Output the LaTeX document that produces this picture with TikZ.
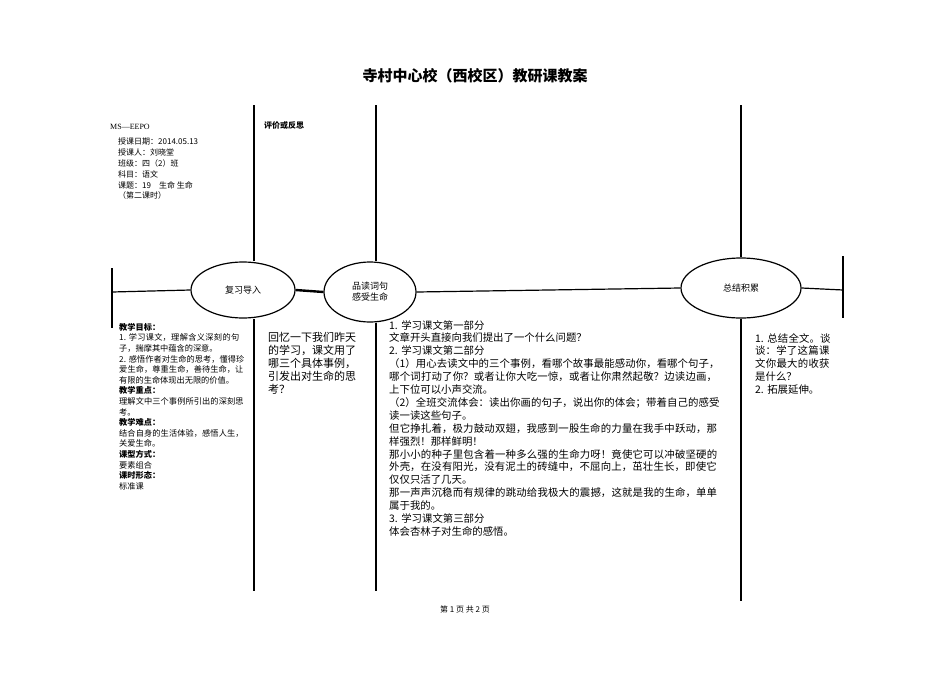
\documentclass[tikz,border=0pt]{standalone}
\usepackage{fontspec}
\setmainfont{Liberation Serif}
\newfontfamily\cjk{Noto Sans CJK SC}
\XeTeXlinebreaklocale "zh"
\XeTeXlinebreakskip=0pt plus 1pt
\usetikzlibrary{shapes.geometric}
\begin{document}
\begin{tikzpicture}[x=1pt,y=-1pt,
  ln/.style={line width=1.2pt},
  ell/.style={ellipse,draw,line width=1.2pt,inner sep=0pt,font=\cjk\fontsize{9}{11}\selectfont,align=center},
  sm/.style={anchor=north west,inner sep=0pt,font=\cjk\fontsize{8.2}{10.6}\selectfont,align=left},
  body/.style={anchor=north west,inner sep=0pt,font=\cjk\fontsize{10.4}{12.9}\selectfont,align=left}]
\useasboundingbox (0,0) rectangle (950,672);
\node[font=\cjk\bfseries\fontsize{15}{18}\selectfont] (title) at (475,76) {寺村中心校（西校区）教研课教案};
\node[ell,minimum width=104,minimum height=56] (e1) at (243,290) {复习导入};
\node[ell,minimum width=92,minimum height=60] (e2) at (370,292) {品读词句\\感受生命};
\node[ell,minimum width=120,minimum height=60] (e3) at (741,288) {总结积累};
\coordinate (lt) at (112,292); \coordinate (lta) at (112,268); \coordinate (ltb) at (112,328);
\coordinate (rt) at (843,290); \coordinate (rta) at (843,256); \coordinate (rtb) at (843,318);
\draw[ln] (lta) -- (ltb);
\draw[ln] (rta) -- (rtb);
\draw[ln] (lt) -- (e1.west);
\draw[line width=2.4pt] (e1.east) -- (e2.west);
\draw[ln] (e2.east) -- (e3.west);
\draw[ln] (e3.east) -- (rt);
\coordinate (a1) at (254,105); \coordinate (a2) at (254,591);
\coordinate (b1) at (376,105); \coordinate (b2) at (376,591);
\coordinate (c1) at (741,105); \coordinate (c2) at (741,601);
\draw[ln] (a1) -- (a1|-e1.north); \draw[ln] (a1|-e1.south) -- (a2);
\draw[ln] (b1) -- (b1|-e2.north); \draw[ln] (b1|-e2.south) -- (b2);
\draw[ln] (c1) -- (e3.north); \draw[ln] (e3.south) -- (c2);
\node[anchor=north west,inner sep=0pt,font=\fontsize{8}{10}\selectfont] (ms) at (110,124) {MS—EEPO};
\node[anchor=north west,inner sep=0pt,font=\cjk\fontsize{8}{10.8}\selectfont,align=left] (info) at (118,138) {授课日期：2014.05.13\\授课人：刘晓堂\\班级：四（2）班\\科目：语文\\课题：19\quad 生命 生命\\（第二课时）};
\node[anchor=north west,inner sep=0pt,font=\cjk\bfseries\fontsize{8}{10}\selectfont] (pj) at (264,121) {评价或反思};
\node[sm,text width=126] (left) at (119,323) {{\bfseries 教学目标：}\\1.~学习课文，理解含义深刻的句子，揣摩其中蕴含的深意。\\2.~感悟作者对生命的思考，懂得珍爱生命，尊重生命，善待生命，让有限的生命体现出无限的价值。\\{\bfseries 教学重点：}\\理解文中三个事例所引出的深刻思考。\\{\bfseries 教学难点：}\\结合自身的生活体验，感悟人生，关爱生命。\\{\bfseries 课型方式：}\\要素组合\\{\bfseries 课时形态：}\\标准课};
\node[anchor=north west,inner sep=0pt,font=\cjk\fontsize{11}{13}\selectfont,text width=88,align=left] (rev) at (268,332) {回忆一下我们昨天的学习，课文用了哪三个具体事例，引发出对生命的思考？};
\node[body,text width=332] (mid) at (389,320) {1.~学习课文第一部分\\文章开头直接向我们提出了一个什么问题？\\2.~学习课文第二部分\\（1）用心去读文中的三个事例，看哪个故事最能感动你，看哪个句子，哪个词打动了你？或者让你大吃一惊，或者让你肃然起敬？边读边画，上下位可以小声交流。\\（2）全班交流体会：读出你画的句子，说出你的体会；带着自己的感受读一读这些句子。\\但它挣扎着，极力鼓动双翅，我感到一股生命的力量在我手中跃动，那样强烈！那样鲜明！\\那小小的种子里包含着一种多么强的生命力呀！竟使它可以冲破坚硬的外壳，在没有阳光，没有泥土的砖缝中，不屈向上，茁壮生长，即使它仅仅只活了几天。\\那一声声沉稳而有规律的跳动给我极大的震撼，这就是我的生命，单单属于我的。\\3.~学习课文第三部分\\体会杏林子对生命的感悟。};
\node[body,text width=80] (sum) at (755,333) {1.~总结全文。谈谈：学了这篇课文你最大的收获是什么？\\2.~拓展延伸。};
\node[font=\cjk\fontsize{8}{10}\selectfont] (pg) at (465,609) {第 1 页 共 2 页};
\end{tikzpicture}
\end{document}
